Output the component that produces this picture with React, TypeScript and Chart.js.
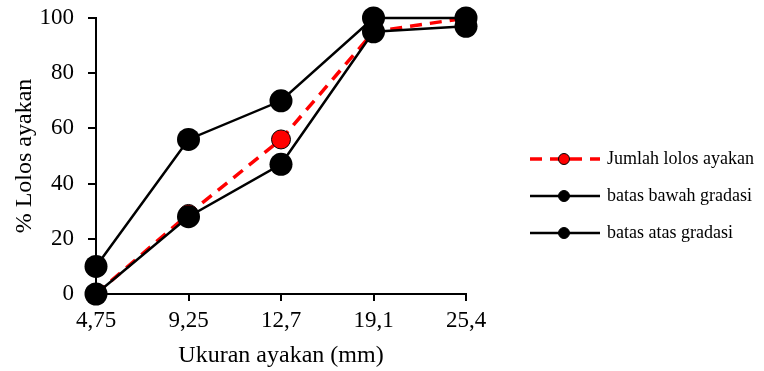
import React, { useEffect, useRef } from "react";
import { Chart, registerables } from "chart.js";

Chart.register(...registerables);

const categories = ["4,75", "9,25", "12,7", "19,1", "25,4"];
const jumlahLolos = [0, 29, 56, 95, 100];
const batasBawah = [0, 28, 47, 95, 97];
const batasAtas = [10, 56, 70, 100, 100];
const yTicks = [0, 20, 40, 60, 80, 100];

const FONT = "'Liberation Serif', 'Times New Roman', serif";

const legendItems = [
  { label: "Jumlah lolos ayakan", color: "#ff0000", dash: [12, 8], width: 3.5, point: "#ff0000" },
  { label: "batas bawah gradasi", color: "#000000", dash: [], width: 2.5, point: "#000000" },
  { label: "batas atas gradasi", color: "#000000", dash: [], width: 2.5, point: "#000000" },
];

const legendPlugin = {
  id: "customLegend",
  afterDraw(chart: any) {
    const ctx = chart.ctx;
    const area = chart.chartArea;
    const x0 = area.right + 64;
    const ys = [159, 196, 233];
    ctx.save();
    legendItems.forEach((it, i) => {
      const y = ys[i];
      ctx.beginPath();
      ctx.setLineDash(it.dash);
      ctx.strokeStyle = it.color;
      ctx.lineWidth = it.width;
      ctx.moveTo(x0, y);
      ctx.lineTo(x0 + 70, y);
      ctx.stroke();
      ctx.setLineDash([]);
      ctx.beginPath();
      ctx.arc(x0 + 34, y, 5.5, 0, Math.PI * 2);
      ctx.fillStyle = it.point;
      ctx.fill();
      ctx.lineWidth = 1;
      ctx.strokeStyle = "#000";
      ctx.stroke();
      ctx.fillStyle = "#000";
      ctx.font = `18px ${FONT}`;
      ctx.textBaseline = "middle";
      ctx.textAlign = "left";
      ctx.fillText(it.label, x0 + 77, y);
    });
    ctx.restore();
  },
};

export default function App() {
  const ref = useRef<HTMLCanvasElement | null>(null);
  useEffect(() => {
    if (!ref.current) return;
    const chart = new Chart(ref.current, {
      type: "line",
      data: {
        labels: categories,
        datasets: [
          {
            label: "Jumlah lolos ayakan",
            data: jumlahLolos,
            borderColor: "#ff0000",
            borderWidth: 3.5,
            borderDash: [12, 8],
            pointRadius: 9.5,
            pointBackgroundColor: "#ff0000",
            pointBorderColor: "#000",
            pointBorderWidth: 1,
            order: 1,
            clip: false,
            tension: 0,
          },
          {
            label: "batas bawah gradasi",
            data: batasBawah,
            borderColor: "#000",
            borderWidth: 2.5,
            pointRadius: 11.5,
            pointBackgroundColor: "#000",
            pointBorderColor: "#000",
            pointBorderWidth: 0,
            order: 0,
            clip: false,
            tension: 0,
          },
          {
            label: "batas atas gradasi",
            data: batasAtas,
            borderColor: "#000",
            borderWidth: 2.5,
            pointRadius: 11.5,
            pointBackgroundColor: "#000",
            pointBorderColor: "#000",
            pointBorderWidth: 0,
            order: 0,
            clip: false,
            tension: 0,
          },
        ],
      },
      options: {
        animation: false,
        responsive: true,
        maintainAspectRatio: false,
        layout: { padding: { top: 18, right: 298, left: 0, bottom: 0 } },
        plugins: {
          legend: { display: false },
          tooltip: { enabled: false },
        },
        scales: {
          x: {
            type: "category",
            offset: false,
            afterFit: (s: any) => {
              s.height = 77;
            },
            grid: {
              display: true,
              drawOnChartArea: false,
              drawTicks: true,
              tickLength: 7,
              color: "#000",
              lineWidth: 2,
            },
            border: { display: true, color: "#000", width: 2 },
            ticks: {
              color: "#000",
              font: { family: FONT, size: 23 },
              padding: 6,
              maxRotation: 0,
            },
            title: {
              display: true,
              text: "Ukuran ayakan (mm)",
              color: "#000",
              font: { family: FONT, size: 24 },
              padding: { top: 0, bottom: 1 },
            },
          },
          y: {
            min: 0,
            max: 100,
            afterFit: (s: any) => {
              s.width = 96;
              s.paddingTop = 0;
              s.paddingBottom = 0;
            },
            afterBuildTicks: (s: any) => {
              s.ticks = yTicks.map((v) => ({ value: v }));
            },
            grid: {
              display: true,
              drawOnChartArea: false,
              drawTicks: true,
              tickLength: 8,
              color: "#000",
              lineWidth: 2,
            },
            border: { display: true, color: "#000", width: 2 },
            ticks: {
              color: "#000",
              font: { family: FONT, size: 23 },
              padding: 14,
            },
            title: {
              display: true,
              text: "% Lolos ayakan",
              color: "#000",
              font: { family: FONT, size: 24 },
              padding: { top: 10, bottom: 0 },
            },
          },
        },
      },
      plugins: [legendPlugin],
    });
    return () => chart.destroy();
  }, []);
  return (
    <div style={{ position: "fixed", left: 0, top: 0, width: 764, height: 371, background: "#fff" }}>
      <canvas ref={ref} />
    </div>
  );
}
